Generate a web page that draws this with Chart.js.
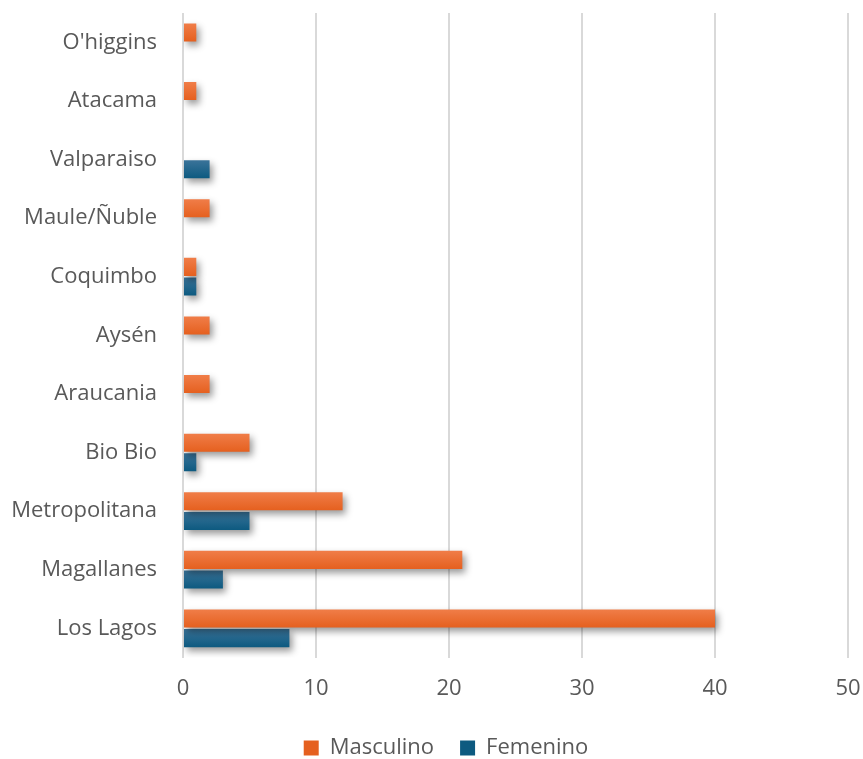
<!DOCTYPE html>
<html>
<head>
<meta charset="utf-8">
<script src="https://cdn.jsdelivr.net/npm/chart.js@4/dist/chart.umd.min.js"></script>
<style>
  html, body { margin: 0; padding: 0; background: #fff; }
  #wrap { width: 863px; height: 759px; }
</style>
</head>
<body>
<div id="wrap"><canvas id="chart"></canvas></div>
<script>
const regions = ["O'higgins", "Atacama", "Valparaiso", "Maule/Ñuble", "Coquimbo", "Aysén", "Araucania", "Bio Bio", "Metropolitana", "Magallanes", "Los Lagos"];
const masculino = [1, 1, 0, 2, 1, 2, 2, 5, 12, 21, 40];
const femenino = [0, 0, 2, 0, 1, 0, 0, 1, 5, 3, 8];
const xTicks = [0, 10, 20, 30, 40, 50];

const textColor = "#595959";
const fontFamily = "'Open Sans', 'Noto Sans', sans-serif";

// per-bar vertical gradient + soft drop shadow, like the Excel style
const barLook = {
  id: "barLook",
  afterLayout(chart) {
    // legend is centred on the plot area, not the whole canvas
    const lg = chart.legend;
    if (lg) { lg.left += 16; lg.right += 16; }
  },
  beforeDatasetsDraw(chart) {
    const ctx = chart.ctx;
    chart.data.datasets.forEach((ds, di) => {
      const meta = chart.getDatasetMeta(di);
      meta.data.forEach((el) => {
        const top = el.y - el.height / 2;
        const g = ctx.createLinearGradient(0, top, 0, top + el.height);
        g.addColorStop(0, ds.gradTop);
        g.addColorStop(1, ds.gradBottom);
        el.options.backgroundColor = g;
      });
    });
    ctx.save();
    ctx.shadowColor = "rgba(0,0,0,0.4)";
    ctx.shadowBlur = 7;
    ctx.shadowOffsetX = 3;
    ctx.shadowOffsetY = 4;
  },
  afterDatasetsDraw(chart) {
    chart.ctx.restore();
  },
};

new Chart(document.getElementById("chart"), {
  type: "bar",
  data: {
    labels: regions,
    datasets: [
      {
        label: "Masculino",
        data: masculino,
        backgroundColor: () => "#E97132",
        gradTop: "#F07D48",
        gradBottom: "#E5601F",
        categoryPercentage: 0.67,
        barPercentage: 0.92,
      },
      {
        label: "Femenino",
        data: femenino,
        backgroundColor: () => "#156082",
        gradTop: "#3A7399",
        gradBottom: "#0D5A80",
        categoryPercentage: 0.67,
        barPercentage: 0.92,
      },
    ],
  },
  options: {
    indexAxis: "y",
    responsive: true,
    maintainAspectRatio: false,
    animation: false,
    layout: { padding: { top: 13, right: 3, bottom: -10, left: 0 } },
    scales: {
      x: {
        min: 0,
        max: 50,
        afterBuildTicks: (axis) => {
          axis.ticks = xTicks.map((v) => ({ value: v }));
        },
        afterFit: (axis) => {
          axis.paddingLeft = 0;
          axis.paddingRight = 15;
          axis.height -= 9;
        },
        grid: { color: "#d9d9d9", lineWidth: 2, drawTicks: false },
        border: { display: false },
        ticks: { color: textColor, font: { family: fontFamily, size: 22 }, padding: 18 },
      },
      y: {
        grid: { display: false, drawTicks: false },
        border: { display: false },
        afterFit: (axis) => {
          axis.width = 183;
          axis.paddingTop = 0;
          axis.paddingBottom = 0;
        },
        ticks: { color: textColor, font: { family: fontFamily, size: 22 }, padding: 26 },
      },
    },
    plugins: {
      legend: {
        position: "bottom",
        labels: {
          color: textColor,
          font: { family: fontFamily, size: 22 },
          boxWidth: 15,
          boxHeight: 15,
          padding: 26,
          generateLabels: (chart) =>
            chart.data.datasets.map((ds, i) => ({
              text: ds.label,
              fillStyle: ds.gradBottom,
              strokeStyle: ds.gradBottom,
              lineWidth: 0,
              fontColor: textColor,
              datasetIndex: i,
            })),
        },
      },
      tooltip: { enabled: false },
    },
  },
  plugins: [barLook],
});
</script>
</body>
</html>
